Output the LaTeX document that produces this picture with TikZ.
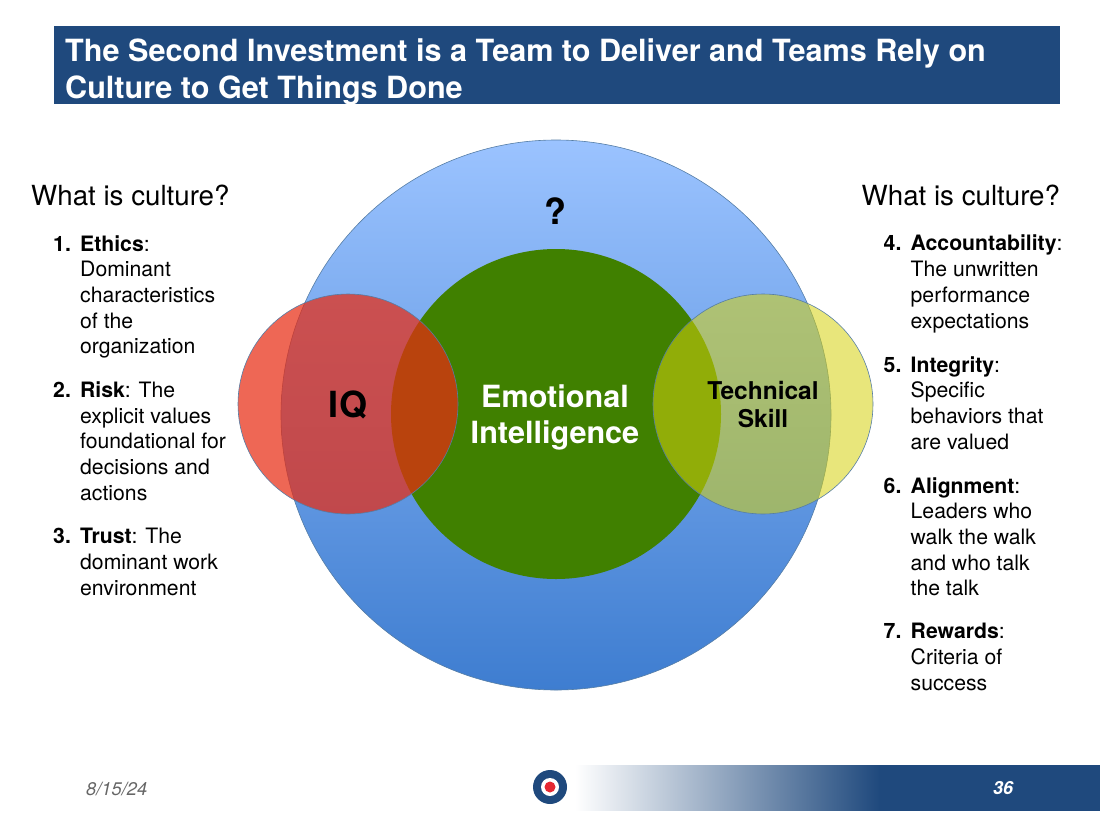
\documentclass[tikz,border=0pt]{standalone}
\usepackage{fontspec}
\usepackage{xcolor}
\setmainfont{TeX Gyre Heros}
\definecolor{navy}{RGB}{31,73,125}
\definecolor{skytop}{RGB}{155,195,255}
\definecolor{skybot}{RGB}{62,125,208}
\definecolor{leaf}{RGB}{64,128,0}
\definecolor{redfill}{RGB}{232,44,19}
\definecolor{yelfill}{RGB}{213,210,15}
\definecolor{rimblue}{RGB}{85,125,165}
\definecolor{logored}{RGB}{228,40,50}
\pgfdeclarehorizontalshading{footfade}{100bp}{color(0bp)=(white); color(25bp)=(white); color(54bp)=(navy); color(100bp)=(navy)}
\newcommand{\itemno}[1]{\leavevmode\llap{\textbf{#1}\hspace{9.3pt}}}
\tikzset{
  heading/.style={anchor=base west, inner sep=0pt, font=\fontsize{27.7}{32}\selectfont},
  itemtxt/.style={anchor=north west, inner sep=0pt, align=left, font=\fontsize{21.2}{25.7}\selectfont},
  venn/.style={circle, draw=rimblue, line width=0.6pt, inner sep=0pt}
}
\begin{document}
\begin{tikzpicture}[x=1pt, y=-1pt]
\useasboundingbox (0,0) rectangle (1100,825);

% title
\fill[navy] (54,26) rectangle (1060,104);
\node (title) at (65,39) [anchor=north west, inner sep=0pt, align=left, text=white, font=\fontsize{30.6}{36}\selectfont\bfseries]
  {The Second Investment is a Team to Deliver and Teams Rely on\\Culture to Get Things Done};

% circles
\node (outer) at (556,415) [venn, minimum size=550pt, top color=skytop, bottom color=skybot] {};
\node (eq) at (556,414) [venn, draw=none, minimum size=330pt, fill=leaf] {};
\node (iq) at (348,404) [venn, minimum size=220pt, fill=redfill, fill opacity=0.72] {};
\node (skill) at (763,404) [venn, minimum size=220pt, fill=yelfill, fill opacity=0.55] {};

% circle labels
\node (unknown) at (555,211) [inner sep=0pt, font=\fontsize{36}{40}\selectfont\bfseries] {?};
\node (eqtext) at (555,417) [inner sep=0pt, align=center, text=white, font=\fontsize{30.6}{36}\selectfont\bfseries] {Emotional\\Intelligence};
\node (iqtext) at (348,405) [inner sep=0pt, font=\fontsize{36}{40}\selectfont\bfseries] {IQ};
\node (skilltext) at (763,405) [inner sep=0pt, align=center, font=\fontsize{24.5}{28}\selectfont\bfseries] {Technical\\Skill};

% left list
\node (headl) at (31,205) [heading] {What is culture?};
\node (t1) at (80,235) [itemtxt] {\itemno{1.}\textbf{Ethics}:\\Dominant\\characteristics\\of the\\organization};
\node (t2) at (80,381.5) [itemtxt] {\itemno{2.}\textbf{Risk}: The\\explicit values\\foundational for\\decisions and\\actions};
\node (t3) at (80,528) [itemtxt] {\itemno{3.}\textbf{Trust}: The\\dominant work\\environment};

% right list
\node (headr) at (861.5,205) [heading] {What is culture?};
\node (t4) at (910.5,235) [itemtxt] {\itemno{4.}\textbf{Accountability}:\\The unwritten\\performance\\expectations};
\node (t5) at (910.5,356) [itemtxt] {\itemno{5.}\textbf{Integrity}:\\Specific\\behaviors that\\are valued};
\node (t6) at (910.5,477) [itemtxt] {\itemno{6.}\textbf{Alignment}:\\Leaders who\\walk the walk\\and who talk\\the talk};
\node (t7) at (910.5,623) [itemtxt] {\itemno{7.}\textbf{Rewards}:\\Criteria of\\success};

% footer
\fill[shading=footfade] (575,765) rectangle (1100,810);
\node (logo) at (550,787) [circle, fill=navy, minimum size=34pt, inner sep=0pt] {};
\node (logoring) at (550,787) [circle, fill=white, minimum size=18pt, inner sep=0pt] {};
\node (logodot) at (550,787) [circle, fill=logored, minimum size=11pt, inner sep=0pt] {};
\node (date) at (86,795) [anchor=base west, inner sep=0pt, text=black!60, font=\fontsize{18.3}{22}\selectfont\itshape] {8/15/24};
\node (page) at (1003,794) [anchor=base, inner sep=0pt, text=white, font=\fontsize{18}{22}\selectfont\bfseries\itshape] {36};
\end{tikzpicture}
\end{document}
